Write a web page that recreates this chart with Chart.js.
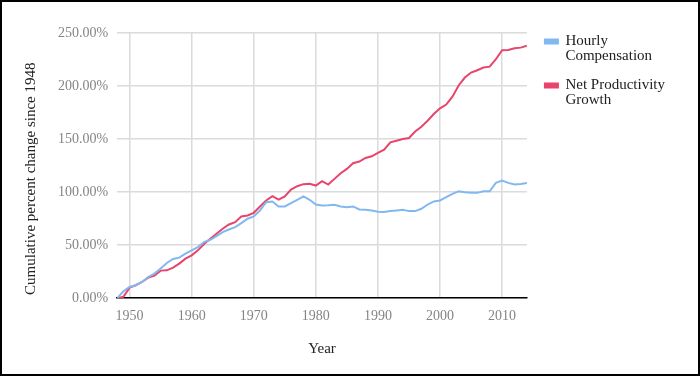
<!DOCTYPE html>
<html>
<head>
<meta charset="utf-8">
<title>Productivity vs Compensation</title>
<script src="https://cdn.jsdelivr.net/npm/chart.js@4"></script>
<style>
    html, body { margin: 0; padding: 0; background: #fff; }
    #wrap { position: relative; width: 700px; height: 376px; }
</style>
</head>
<body>
<div id="wrap"><canvas id="chart" width="700" height="376"></canvas></div>
<script>
// 年（横軸）
const years = [
    1948, 1949, 1950, 1951, 1952, 1953, 1954, 1955, 1956, 1957,
    1958, 1959, 1960, 1961, 1962, 1963, 1964, 1965, 1966, 1967,
    1968, 1969, 1970, 1971, 1972, 1973, 1974, 1975, 1976, 1977,
    1978, 1979, 1980, 1981, 1982, 1983, 1984, 1985, 1986, 1987,
    1988, 1989, 1990, 1991, 1992, 1993, 1994, 1995, 1996, 1997,
    1998, 1999, 2000, 2001, 2002, 2003, 2004, 2005, 2006, 2007,
    2008, 2009, 2010, 2011, 2012, 2013, 2014
];

// Hourly Compensation（%）
const compensation = [
    0, 6.5, 10.6, 12.2, 15.3, 20.0, 23.2, 27.9, 33.2, 37.0,
    38.2, 42.0, 45.1, 48.2, 52.9, 55.1, 58.6, 62.3, 64.8, 67.0,
    70.8, 74.9, 77.1, 82.7, 90.5, 91.2, 86.5, 86.5, 89.6, 92.8,
    95.9, 92.8, 88.3, 87.4, 87.6, 88.0, 86.5, 85.8, 86.5, 83.6,
    83.3, 82.7, 81.5, 81.2, 82.1, 82.7, 83.3, 82.1, 82.1, 84.3,
    88.3, 91.2, 92.1, 95.2, 98.4, 100.8, 99.9, 99.3, 99.3, 100.8,
    100.8, 108.7, 110.9, 108.7, 107.1, 107.7, 108.7
];

// Net Productivity Growth（%）
const productivity = [
    0, 1.3, 10.0, 12.2, 15.3, 19.4, 21.3, 26.0, 26.3, 28.8,
    32.6, 37.3, 40.4, 45.1, 51.0, 56.1, 60.8, 65.5, 69.5, 71.7,
    77.1, 78.0, 80.5, 86.5, 92.1, 96.2, 93.0, 96.0, 102.4, 105.6,
    107.5, 107.8, 106.2, 110.3, 107.1, 112.5, 117.8, 121.9, 127.2, 128.8,
    132.2, 133.8, 137.0, 140.0, 146.9, 148.5, 150.1, 151.0, 157.2, 161.7,
    167.3, 173.6, 179.0, 182.5, 190.0, 200.5, 208.0, 212.7, 214.9, 217.4,
    218.3, 225.3, 233.7, 234.0, 235.6, 236.2, 238.0
];

// 凡例ラベル（折り返し済み）
const seriesLabels = [
    ['Hourly', 'Compensation'],
    ['Net Productivity', 'Growth']
];

const FONT = '"Liberation Serif", "DejaVu Serif", serif';

/**
 * 外枠を描き、凡例の位置を微調整するプラグイン
 */
const framePlugin = {
    id: 'frame',
    afterLayout(chart) {
        const lg = chart.legend;
        if (lg) {
            lg.left += 4;
            lg.right += 4;
            lg.top -= 13;
            lg.bottom -= 13;
        }
    },
    afterDraw(chart) {
        const ctx = chart.ctx;
        ctx.save();
        ctx.strokeStyle = '#000';
        ctx.lineWidth = 2;
        ctx.strokeRect(1, 1, chart.width - 2, chart.height - 2);
        ctx.restore();
    }
};

document.addEventListener('DOMContentLoaded', () => {
    const ctx = document.getElementById('chart');

    new Chart(ctx, {
        type: 'line',
        data: {
            datasets: [{
                label: seriesLabels[0],
                data: years.map((y, i) => ({ x: y, y: compensation[i] })),
                borderColor: 'rgb(130, 184, 240)',
                backgroundColor: 'rgb(130, 184, 240)',
                borderWidth: 2,
                pointRadius: 0,
                tension: 0
            }, {
                label: seriesLabels[1],
                data: years.map((y, i) => ({ x: y, y: productivity[i] })),
                borderColor: 'rgb(232, 68, 108)',
                backgroundColor: 'rgb(232, 68, 108)',
                borderWidth: 2,
                pointRadius: 0,
                tension: 0
            }]
        },
        options: {
            responsive: false,
            animation: false,
            layout: {
                padding: { left: 20, right: 29, top: 33, bottom: 18 }
            },
            plugins: {
                tooltip: { enabled: false },
                legend: {
                    position: 'right',
                    align: 'start',
                    labels: {
                        boxWidth: 13,
                        boxHeight: 4,
                        padding: 14,
                        color: '#222',
                        font: { family: FONT, size: 15, lineHeight: 1 }
                    }
                }
            },
            scales: {
                x: {
                    type: 'linear',
                    min: 1948,
                    max: 2014,
                    ticks: {
                        stepSize: 10,
                        includeBounds: false,
                        padding: 10,
                        color: '#858585',
                        font: { family: FONT, size: 14 },
                        callback: (v) => String(v)
                    },
                    grid: { color: '#d8dcdc', lineWidth: 1.5, drawTicks: false },
                    border: { color: '#000', width: 1.5 },
                    title: {
                        display: true,
                        text: 'Year',
                        color: '#222',
                        font: { family: FONT, size: 15 },
                        padding: { top: 5, bottom: 0 }
                    }
                },
                y: {
                    min: 0,
                    max: 250,
                    ticks: {
                        stepSize: 50,
                        padding: 9,
                        color: '#858585',
                        font: { family: FONT, size: 14 },
                        callback: (v) => v.toFixed(2) + '%'
                    },
                    grid: { color: '#d8dcdc', lineWidth: 1.5, drawTicks: false },
                    border: { display: false },
                    title: {
                        display: true,
                        // 末尾の空白で見出しを少し下へ寄せる
                        text: 'Cumulative percent change since 1948\u00A0\u00A0\u00A0\u00A0\u00A0\u00A0\u00A0',
                        color: '#222',
                        font: { family: FONT, size: 15 },
                        padding: { top: 2, bottom: 9 }
                    }
                }
            }
        },
        plugins: [framePlugin]
    });
});
</script>
</body>
</html>
